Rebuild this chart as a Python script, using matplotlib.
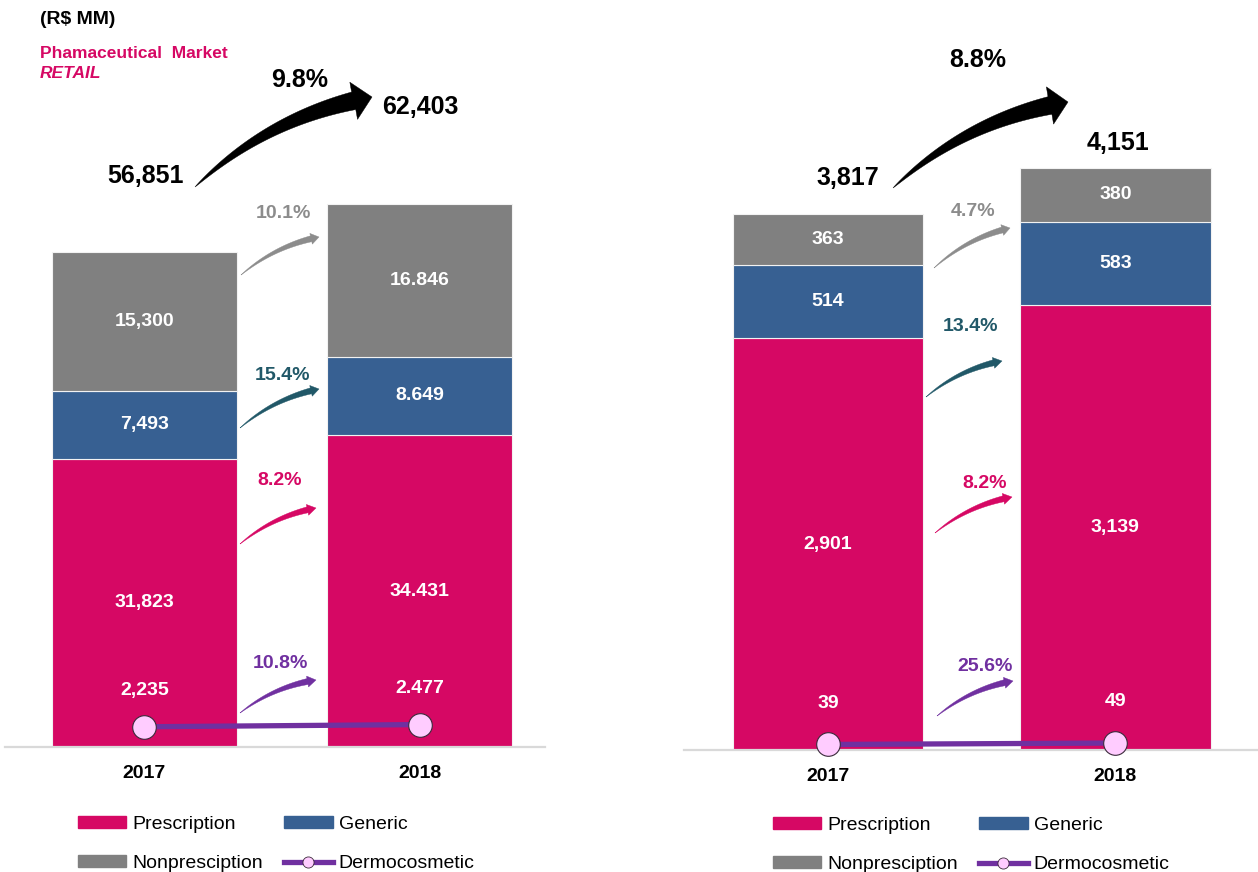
import numpy as np
import matplotlib
matplotlib.use("Agg")
import matplotlib.pyplot as plt
import matplotlib.patches as mpatches
from matplotlib.lines import Line2D

plt.rcParams['font.family'] = ['Liberation Sans', 'DejaVu Sans']

# ---------------- data ----------------
years = ["2017", "2018"]

# Pharmaceutical market (left)
pm_prescription = [31823, 34431]
pm_generic = [7493, 8649]
pm_nonpresc = [15300, 16846]
pm_dermo = [2235, 2477]
pm_presc_lbl = ["31,823", "34.431"]
pm_generic_lbl = ["7,493", "8.649"]
pm_nonpresc_lbl = ["15,300", "16.846"]
pm_dermo_lbl = ["2,235", "2.477"]
pm_total_lbl = ["56,851", "62,403"]
pm_growth = ["10.1%", "15.4%", "8.2%", "10.8%"]   # nonpresc, generic, presc, dermo
pm_total_growth = "9.8%"

# Right panel
rd_prescription = [2901, 3139]
rd_generic = [514, 583]
rd_nonpresc = [363, 380]
rd_dermo = [39, 49]
rd_presc_lbl = ["2,901", "3,139"]
rd_generic_lbl = ["514", "583"]
rd_nonpresc_lbl = ["363", "380"]
rd_dermo_lbl = ["39", "49"]
rd_total_lbl = ["3,817", "4,151"]
rd_growth = ["4.7%", "13.4%", "8.2%", "25.6%"]
rd_total_growth = "8.8%"

# ---------------- style ----------------
C_PRESC = "#D60864"
C_GEN = "#376092"
C_NON = "#808080"
C_DERM = "#7030A0"
C_DERM_FACE = "#FFCCFF"
C_GEN_TXT = "#215868"
C_NON_TXT = "#8C8C8C"

W, H = 1258, 872
fig = plt.figure(figsize=(W / 100, H / 100), dpi=100)


def fx(px):
    return px / W


def fy(py):
    return 1 - py / H


def tapered_arrow(p0, p1, rad, tail_w, head_w, head_l, color):
    """Curved arrow drawn in figure pixel coords (top-left origin), tapering from a point."""
    x0, y0 = p0
    x1, y1 = p1
    y0u, y1u = H - y0, H - y1
    mx, my = (x0 + x1) / 2, (y0u + y1u) / 2
    dx, dy = x1 - x0, y1u - y0u
    cx, cy = mx - rad * dy, my + rad * dx
    t = np.linspace(0, 1, 100)
    bx = (1 - t) ** 2 * x0 + 2 * (1 - t) * t * cx + t ** 2 * x1
    by = (1 - t) ** 2 * y0u + 2 * (1 - t) * t * cy + t ** 2 * y1u
    seg = np.hypot(np.diff(bx), np.diff(by))
    s = np.concatenate([[0], np.cumsum(seg)])
    L = s[-1]
    keep = s <= L - head_l
    sx, sy, ss = bx[keep], by[keep], s[keep]
    tx = np.gradient(sx)
    ty = np.gradient(sy)
    n = np.hypot(tx, ty)
    nx, ny = -ty / n, tx / n
    w = tail_w / 2 * (ss / ss[-1]) ** 0.8
    left = np.column_stack([sx + nx * w, sy + ny * w])
    right = np.column_stack([sx - nx * w, sy - ny * w])
    hx, hy = sx[-1], sy[-1]
    ux, uy = x1 - hx, y1u - hy
    un = np.hypot(ux, uy)
    ux, uy = ux / un, uy / un
    pnx, pny = -uy, ux
    head = [(hx + pnx * head_w / 2, hy + pny * head_w / 2),
            (x1, y1u),
            (hx - pnx * head_w / 2, hy - pny * head_w / 2)]
    pts = np.vstack([left, head, right[::-1]])
    pts_fig = np.column_stack([pts[:, 0] / W, pts[:, 1] / H])
    poly = mpatches.Polygon(pts_fig, closed=True, transform=fig.transFigure,
                            facecolor=color, edgecolor=color, lw=0.3)
    fig.patches.append(poly)


def panel(ax_rect, ymax, xlim, width, presc, gen, non, dermo,
          presc_lbl, gen_lbl, non_lbl, dermo_lbl, dermo_lbl_off):
    ax = fig.add_axes(ax_rect)
    x = np.arange(len(years))
    presc = np.array(presc)
    gen = np.array(gen)
    non = np.array(non)
    ax.bar(x, presc, width, color=C_PRESC, edgecolor="#F2F2F2", lw=0.8, zorder=2)
    ax.bar(x, gen, width, bottom=presc, color=C_GEN, edgecolor="#F2F2F2", lw=0.8, zorder=2)
    ax.bar(x, non, width, bottom=presc + gen, color=C_NON, edgecolor="#F2F2F2", lw=0.8, zorder=2)
    ax.plot(x, dermo, color=C_DERM, lw=3.8, marker="o", markersize=17,
            markerfacecolor=C_DERM_FACE, markeredgecolor="#3a2a3a", markeredgewidth=0.8,
            zorder=4, clip_on=False)
    for i in range(len(years)):
        kw = dict(ha="center", va="center", color="white", fontsize=14, fontweight="bold", zorder=5)
        ax.text(x[i], presc[i] / 2, presc_lbl[i], **kw)
        ax.text(x[i], presc[i] + gen[i] / 2, gen_lbl[i], **kw)
        ax.text(x[i], presc[i] + gen[i] + non[i] / 2, non_lbl[i], **kw)
        ax.text(x[i], dermo[i] + dermo_lbl_off, dermo_lbl[i], **kw)
    ax.set_ylim(0, ymax)
    ax.set_xlim(*xlim)
    for s in ["top", "left", "right"]:
        ax.spines[s].set_visible(False)
    ax.spines["bottom"].set_color("#D9D9D9")
    ax.spines["bottom"].set_linewidth(1.6)
    ax.set_yticks([])
    ax.set_xticks(x)
    ax.set_xticklabels(years, fontsize=14, fontweight="bold")
    ax.tick_params(axis="x", length=0, pad=13)
    ax.set_facecolor("none")
    handles = [mpatches.Patch(color=C_PRESC, label="Prescription"),
               mpatches.Patch(color=C_NON, label="Nonpresciption"),
               mpatches.Patch(color=C_GEN, label="Generic"),
               Line2D([], [], color=C_DERM, lw=3.8, marker="o", markersize=8,
                      markerfacecolor=C_DERM_FACE, markeredgecolor="#3a2a3a",
                      markeredgewidth=0.6, label="Dermocosmetic")]
    return ax, handles


legkw = dict(ncol=2, loc="upper left", frameon=False, fontsize=14, handlelength=2.5,
             handleheight=0.6, handletextpad=0.3, columnspacing=1.1, labelspacing=1.15,
             borderpad=0)

# ---------------- left panel ----------------
axL, hL = panel([fx(5), 125 / H, 540 / W, 634 / H], 70000, (-0.506, 1.454), 0.672,
                pm_prescription, pm_generic, pm_nonpresc, pm_dermo,
                pm_presc_lbl, pm_generic_lbl, pm_nonpresc_lbl, pm_dermo_lbl, 4000)
fig.legend(handles=hL, bbox_to_anchor=(fx(68), fy(806)), **legkw)

# ---------------- right panel ----------------
axR, hR = panel([fx(684), 122 / H, 574 / W, 638.6 / H], 4500, (-0.501, 1.496), 0.663,
                rd_prescription, rd_generic, rd_nonpresc, rd_dermo,
                rd_presc_lbl, rd_generic_lbl, rd_nonpresc_lbl, rd_dermo_lbl, 290)
fig.legend(handles=hR, bbox_to_anchor=(fx(763), fy(807)), **legkw)

# ---------------- titles ----------------
fig.text(fx(40), fy(20), "(R$ MM)", fontsize=14, fontweight="bold", va="center", ha="left")
fig.text(fx(40), fy(53), "Phamaceutical  Market", fontsize=12.5, fontweight="bold",
         color=C_PRESC, va="center", ha="left")
fig.text(fx(40), fy(74), "RETAIL", fontsize=12.5, fontweight="bold", style="italic",
         color=C_PRESC, va="center", ha="left")

big = dict(fontsize=18, fontweight="bold", ha="center", va="center")
fig.text(fx(300), fy(80), pm_total_growth, **big)
fig.text(fx(146), fy(176), pm_total_lbl[0], **big)
fig.text(fx(420), fy(107), pm_total_lbl[1], **big)
fig.text(fx(978), fy(60), rd_total_growth, **big)
fig.text(fx(848), fy(178), rd_total_lbl[0], **big)
fig.text(fx(1118), fy(143), rd_total_lbl[1], **big)

tapered_arrow((195, 187), (372, 97), 0.15, 18, 38, 18, "black")
tapered_arrow((893, 188), (1068, 102), 0.15, 18, 38, 18, "black")

# ---------------- growth arrows ----------------
gcolors = [C_NON_TXT, C_GEN_TXT, C_PRESC, C_DERM]
left_arrows = [((241, 275), (319, 237)), ((240, 428), (319, 389)),
               ((240, 544), (316, 508)), ((240, 713), (316, 680))]
left_lbls = [(283, 213), (283, 375), (280, 480), (280, 663)]
right_arrows = [((934, 268), (1010, 228)), ((926, 397), (1002, 361)),
                ((935, 533), (1012, 497)), ((937, 716), (1013, 681))]
right_lbls = [(973, 211), (970, 326), (985, 483), (985, 666)]
for (p0, p1), (lx, ly), g, c in zip(left_arrows, left_lbls, pm_growth, gcolors):
    tapered_arrow(p0, p1, 0.13, 6, 11, 8, c)
    fig.text(fx(lx), fy(ly), g, color=c, fontsize=14, fontweight="bold", ha="center", va="center")
for (p0, p1), (lx, ly), g, c in zip(right_arrows, right_lbls, rd_growth, gcolors):
    tapered_arrow(p0, p1, 0.13, 6, 11, 8, c)
    fig.text(fx(lx), fy(ly), g, color=c, fontsize=14, fontweight="bold", ha="center", va="center")

fig.savefig("out.png", dpi=100, facecolor="white")
